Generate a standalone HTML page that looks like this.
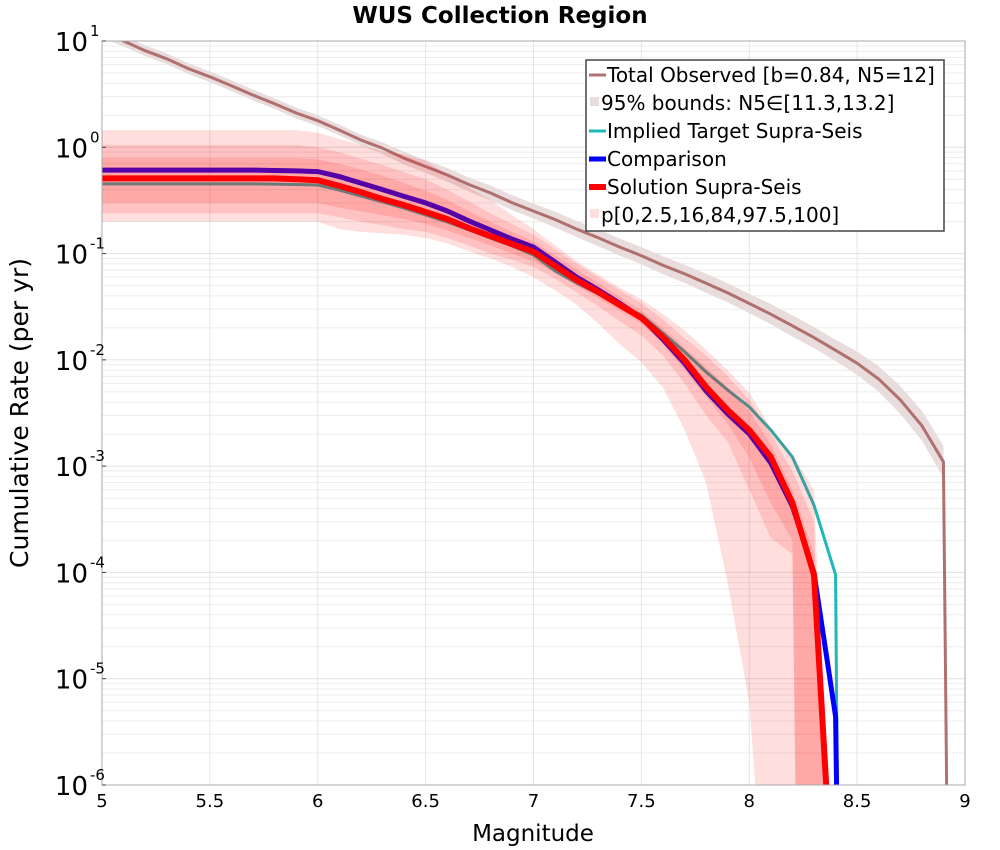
<!DOCTYPE html>
<html><head><meta charset="utf-8"><style>
html,body{margin:0;padding:0;background:#fff;overflow:hidden;width:1000px;height:850px;}
svg{display:block;}
svg text{font-family:"DejaVu Sans","Liberation Sans",sans-serif;}
</style></head><body>
<svg id="chart" width="1000" height="850" xmlns="http://www.w3.org/2000/svg">
<defs><clipPath id="pc"><rect x="102" y="41" width="863" height="744"/></clipPath></defs>
<rect x="0" y="0" width="1000" height="850" fill="#fff"/>
<g id="grid"></g>
<g id="marks" clip-path="url(#pc)"></g>
<rect x="102" y="41" width="863" height="744" fill="none" stroke="#aaa" stroke-width="1"/>
<g id="axes"></g>
<text x="500" y="23" text-anchor="middle" font-size="23" font-weight="bold">WUS Collection Region</text>
<text x="533" y="841" text-anchor="middle" font-size="23">Magnitude</text>
<text transform="translate(28,413) rotate(-90)" text-anchor="middle" font-size="25">Cumulative Rate (per yr)</text>
<g id="legend">
<rect x="586" y="60" width="358" height="171" fill="#fff" stroke="#444" stroke-width="1.5"/>
<g><line x1="589" y1="75" x2="606" y2="75" stroke="#b07070" stroke-width="3"/><text x="607" y="82" font-size="20">Total Observed [b=0.84, N5=12]</text></g>
<g><rect x="590" y="97" width="9" height="9" fill="#e8dcdc"/><text x="601" y="110" font-size="20">95% bounds: N5∈[11.3,13.2]</text></g>
<g><line x1="589" y1="131" x2="606" y2="131" stroke="#1fb8b8" stroke-width="3"/><text x="607" y="138" font-size="20">Implied Target Supra-Seis</text></g>
<g><line x1="589" y1="159" x2="606" y2="159" stroke="#0000ff" stroke-width="5"/><text x="607" y="166" font-size="20">Comparison</text></g>
<g><line x1="589" y1="187" x2="606" y2="187" stroke="#ff0000" stroke-width="6"/><text x="607" y="194" font-size="20">Solution Supra-Seis</text></g>
<g><rect x="590" y="209" width="9" height="9" fill="#ffdede"/><text x="601" y="222" font-size="20">p[0,2.5,16,84,97.5,100]</text></g>
</g>
</svg>
<script>
const totalMags=[5.0,5.1,5.2,5.3,5.4,5.5,5.6,5.7,5.8,5.9,6.0,6.1,6.2,6.3,6.4,6.5,6.6,6.7,6.8,6.9,7.0,7.1,7.2,7.3,7.4,7.5,7.6,7.7,7.8,7.9,8.0,8.1,8.2,8.3,8.4,8.5,8.6,8.7,8.8,8.9,8.92];
const totalRate=[12,10,8.1,6.8,5.5,4.6,3.8,3.1,2.57,2.1,1.78,1.45,1.17,0.98,0.79,0.66,0.55,0.447,0.372,0.302,0.251,0.209,0.17,0.141,0.115,0.0955,0.0776,0.0646,0.0525,0.0427,0.0339,0.0269,0.0209,0.0162,0.0123,0.0093,0.0066,0.0042,0.0024,0.0011,1e-7];
const totalBandLogHalf=[0.05,0.05,0.05,0.05,0.05,0.05,0.05,0.05,0.05,0.05,0.05,0.05,0.05,0.055,0.06,0.06,0.065,0.065,0.07,0.07,0.07,0.075,0.075,0.08,0.08,0.08,0.085,0.085,0.09,0.09,0.09,0.095,0.1,0.1,0.1,0.11,0.12,0.13,0.14,0.15,0.15];
const mags=[5.0,5.1,5.2,5.3,5.4,5.5,5.6,5.7,5.8,5.9,6.0,6.1,6.2,6.3,6.4,6.5,6.6,6.7,6.8,6.9,7.0,7.1,7.2,7.3,7.4,7.5,7.6,7.7,7.8,7.9,8.0,8.1,8.2,8.3,8.4,8.5];
const solution=[0.51,0.51,0.51,0.51,0.51,0.51,0.51,0.51,0.51,0.5,0.49,0.433,0.379,0.326,0.286,0.246,0.211,0.174,0.146,0.123,0.104,0.0764,0.0564,0.0435,0.0328,0.0248,0.0164,0.00998,0.00556,0.00337,0.00219,0.00122,4.5e-4,9.5e-5,3e-8,1e-20];
const comparison=[0.61,0.61,0.61,0.61,0.61,0.61,0.61,0.61,0.605,0.6,0.59,0.53,0.46,0.40,0.345,0.30,0.252,0.203,0.167,0.137,0.115,0.0834,0.060,0.0455,0.034,0.0248,0.0156,0.0093,0.0051,0.0031,0.00201,0.00107,4.2e-4,9.9e-5,4.4e-6,1e-20];
const target=[0.452,0.452,0.452,0.452,0.452,0.452,0.452,0.452,0.45,0.447,0.442,0.396,0.348,0.306,0.268,0.231,0.198,0.167,0.14,0.118,0.097,0.0686,0.0528,0.0418,0.0328,0.0264,0.0179,0.0119,0.00769,0.0052,0.0036,0.00219,0.00122,4.3e-4,9.5e-5,1e-30];
const bandMags=[5.0,5.1,5.2,5.3,5.4,5.5,5.6,5.7,5.8,5.9,6.0,6.1,6.2,6.3,6.4,6.5,6.6,6.7,6.8,6.9,7.0,7.1,7.2,7.3,7.4,7.5,7.6,7.7,7.8,7.9,8.0,8.1,8.2,8.3,8.4];
const p100=[1.45,1.45,1.45,1.45,1.45,1.45,1.45,1.45,1.45,1.45,1.37,1.2,1.05,0.92,0.85,0.75,0.55,0.42,0.32,0.23,0.17,0.12,0.085,0.063,0.048,0.037,0.027,0.019,0.0125,0.008,0.0049,0.0023,0.0013,5.9e-4,1e-8];
const p0=[0.2,0.2,0.2,0.2,0.2,0.2,0.2,0.2,0.2,0.2,0.2,0.17,0.16,0.155,0.15,0.14,0.125,0.105,0.09,0.075,0.06,0.045,0.033,0.022,0.014,0.0095,0.0055,0.0022,7e-4,8e-5,6e-6,1e-8,1e-8,1e-8,1e-8];
const p975=[1.05,1.05,1.05,1.05,1.05,1.05,1.05,1.05,1.05,1.05,1.0,0.9,0.78,0.68,0.58,0.5,0.4,0.31,0.24,0.19,0.15,0.11,0.08,0.06,0.045,0.034,0.024,0.016,0.011,0.007,0.0042,0.002,9e-4,3e-4,1e-9];
const p25=[0.24,0.24,0.24,0.24,0.24,0.24,0.24,0.24,0.24,0.24,0.24,0.22,0.2,0.185,0.17,0.16,0.14,0.12,0.1,0.088,0.075,0.058,0.043,0.032,0.023,0.017,0.011,0.006,0.003,0.0017,6e-4,2.1e-4,1.5e-4,1e-20,1e-20];
const p84=[0.79,0.79,0.79,0.79,0.79,0.79,0.79,0.79,0.79,0.79,0.77,0.7,0.62,0.54,0.46,0.39,0.32,0.25,0.2,0.16,0.13,0.096,0.071,0.053,0.039,0.029,0.02,0.013,0.0085,0.0055,0.0033,0.0016,6e-4,1.5e-4,1e-9];
const p16=[0.3,0.3,0.3,0.3,0.3,0.3,0.3,0.3,0.3,0.3,0.3,0.27,0.25,0.23,0.21,0.19,0.165,0.14,0.12,0.1,0.085,0.066,0.05,0.038,0.029,0.022,0.014,0.008,0.0045,0.0025,0.0012,4.5e-4,2e-4,1e-20,1e-20];
const xTicks=[5,5.5,6,6.5,7,7.5,8,8.5,9];
const xTickLabels=["5","5.5","6","6.5","7","7.5","8","8.5","9"];
const yExps=[1,0,-1,-2,-3,-4,-5,-6];

const NS="http://www.w3.org/2000/svg";
const X0=102,X1=965,Y0=41,Y1=785,XMIN=5,XMAX=9,LMAX=1,LMIN=-6;
function sx(m){return X0+(m-XMIN)/(XMAX-XMIN)*(X1-X0);}
function syLog(l){l=Math.max(l,-40);return Y0+(LMAX-l)/(LMAX-LMIN)*(Y1-Y0);}
function sy(v){return syLog(Math.log10(v));}
function mk(tag,attrs,parent){const e=document.createElementNS(NS,tag);for(const k in attrs)e.setAttribute(k,attrs[k]);parent.appendChild(e);return e;}
const grid=document.getElementById('grid'),marks=document.getElementById('marks'),axes=document.getElementById('axes');

for(let d=LMIN;d<LMAX;d++){for(let k=2;k<=9;k++){const y=sy(k*Math.pow(10,d));
const l=mk('line',{x1:X0,x2:X1,y1:y,y2:y,stroke:'#ececec','stroke-width':1},grid);

}}
yExps.forEach(e=>{const y=syLog(e);
const l=mk('line',{x1:X0,x2:X1,y1:y,y2:y,stroke:'#e0e0e0','stroke-width':1},grid);


const t=mk('text',{x:88,y:y+10,'text-anchor':'end','font-size':26},axes);


t.textContent='10';
const s=mk('text',{x:90,y:y-5,'font-size':15},axes);


s.textContent=String(e);
const tk=mk('line',{x1:X0,x2:X0+4,y1:y,y2:y,stroke:'#444'},axes);

});
xTicks.forEach((m,i)=>{const x=sx(m);
const l=mk('line',{x1:x,x2:x,y1:Y0,y2:Y1,stroke:'#e4e4e4','stroke-width':1},grid);


const t=mk('text',{x:x,y:807,'text-anchor':'middle','font-size':18},axes);


t.textContent=xTickLabels[i];});

function linePts(ms,vs){return ms.map((m,i)=>sx(m).toFixed(1)+','+sy(vs[i]).toFixed(1)).join(' ');}
function bandPts(ms,up,lo){const a=ms.map((m,i)=>sx(m).toFixed(1)+','+sy(up[i]).toFixed(1));
const b=ms.map((m,i)=>sx(m).toFixed(1)+','+sy(lo[i]).toFixed(1)).reverse();return a.concat(b).join(' ');}

const tUp=totalRate.map((v,i)=>v*Math.pow(10,totalBandLogHalf[i]));
const tLo=totalRate.map((v,i)=>v/Math.pow(10,totalBandLogHalf[i]));
const tb=mk('polygon',{points:bandPts(totalMags,tUp,tLo),fill:'#e8dcdc'},marks);


const tl=mk('polyline',{points:linePts(totalMags,totalRate),fill:'none',stroke:'#b07070','stroke-width':3},marks);


const tg=mk('polyline',{points:linePts(mags,target),fill:'none',stroke:'#1fb8b8','stroke-width':3},marks);


const cp=mk('polyline',{points:linePts(mags,comparison),fill:'none',stroke:'#0000ff','stroke-width':5},marks);


const b1=mk('polygon',{points:bandPts(bandMags,p100,p0),fill:'#ff0000','fill-opacity':0.13},marks);


const b2=mk('polygon',{points:bandPts(bandMags,p975,p25),fill:'#ff0000','fill-opacity':0.13},marks);


const b3=mk('polygon',{points:bandPts(bandMags,p84,p16),fill:'#ff0000','fill-opacity':0.13},marks);


const sl=mk('polyline',{points:linePts(mags,solution),fill:'none',stroke:'#ff0000','stroke-width':6},marks);


</script>
</body></html>
